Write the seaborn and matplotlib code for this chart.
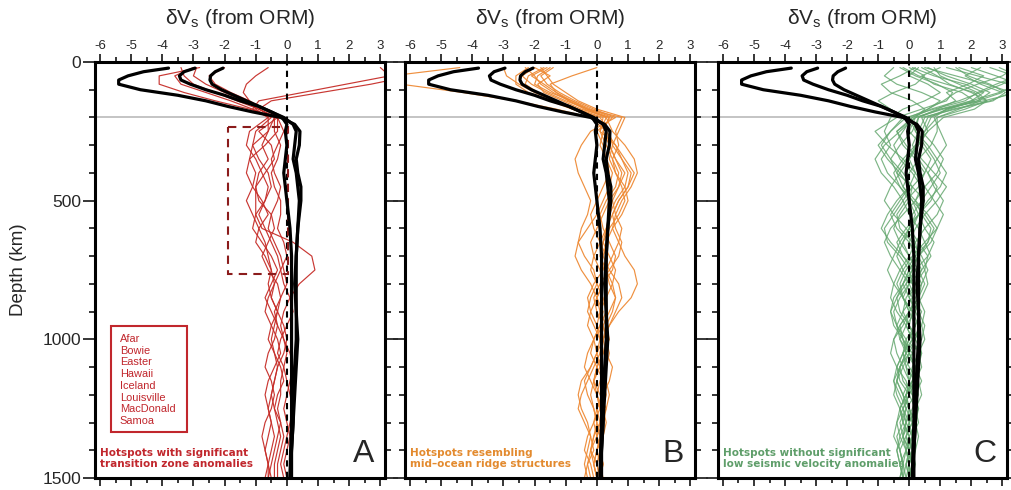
import numpy as np
import pandas as pd
import matplotlib
matplotlib.use("Agg")
import matplotlib.pyplot as plt
import matplotlib.transforms as mtransforms
from matplotlib.lines import Line2D
from matplotlib.patches import Rectangle
from matplotlib.ticker import MultipleLocator
import seaborn as sns

# ---- data (dVs in %, depth in km) ----
D_BLACK = [22, 35, 50, 65, 80, 100, 120, 140, 160, 180, 200, 225, 250, 300, 350,
           400, 450, 500, 600, 700, 800, 900, 1000, 1100, 1200, 1300, 1400, 1500]
BLACK_1 = [-3.8, -4.6, -5.1, -5.4, -5.4, -4.7, -3.5, -2.6, -1.9, -1.1, -0.2, 0.25, 0.42, 0.4,
           0.3, 0.35, 0.45, 0.45, 0.35, 0.3, 0.25, 0.3, 0.35, 0.3, 0.25, 0.2, 0.15, 0.1]
BLACK_2 = [-2.95, -3.3, -3.45, -3.4, -3.1, -2.6, -2.0, -1.5, -0.9, -0.5, -0.1, 0.2, 0.3, 0.25,
           0.2, 0.3, 0.35, 0.4, 0.35, 0.3, 0.3, 0.3, 0.3, 0.25, 0.2, 0.2, 0.15, 0.15]
BLACK_3 = [-2.05, -2.3, -2.45, -2.47, -2.4, -2.1, -1.7, -1.3, -0.9, -0.5, -0.15, 0.0, -0.05, 0.0,
           -0.05, -0.1, -0.05, 0.0, 0.1, 0.15, 0.15, 0.15, 0.15, 0.15, 0.15, 0.15, 0.12, 0.1]

D_HOT = [20, 50, 80, 110, 140, 170, 200, 250, 300, 350, 400, 450, 500, 550, 600, 650, 700,
         750, 800, 850, 900, 950, 1000, 1050, 1100, 1150, 1200, 1250, 1300, 1350, 1400, 1450, 1500]

# A: hotspots with significant transition zone anomalies
RED = [
    [3.0, 3.3, 1.9, 0.5, -0.9, -1.1, -0.5, -1.0, -1.1, -1.2, -1.0, -1.1, -1.3, -1.1, -0.9, -0.7, -0.6,
     -0.5, -0.6, -0.5, -0.3, -0.4, -0.5, -0.4, -0.3, -0.4, -0.5, -0.6, -0.5, -0.4, -0.5, -0.6, -0.6],
    [4.5, 4.0, 2.7, 1.1, -0.5, -0.9, -0.4, -0.6, -0.8, -0.6, -0.9, -1.0, -1.0, -1.0, -0.8, 0.2, 0.8,
     0.9, 0.4, 0.1, -0.1, -0.2, -0.1, 0.0, -0.1, -0.2, -0.2, -0.3, -0.2, -0.1, -0.2, -0.3, -0.3],
    [-2.8, -4.1, -4.1, -3.3, -2.3, -1.2, -0.3, -0.3, -0.7, -1.2, -1.3, -1.1, -0.8, -0.6, -0.9, -1.0, -0.7,
     -0.5, -0.4, -0.6, -0.7, -0.5, -0.3, -0.2, -0.4, -0.6, -0.7, -0.6, -0.5, -0.6, -0.7, -0.6, -0.5],
    [-3.4, -3.3, -3.0, -2.3, -1.6, -0.9, -0.3, -0.9, -0.5, -0.4, -0.7, -1.0, -0.9, -0.5, -0.4, -0.6, -0.8,
     -0.6, -0.3, -0.2, -0.3, -0.5, -0.6, -0.4, -0.2, -0.1, -0.3, -0.4, -0.3, -0.2, -0.3, -0.4, -0.4],
    [-0.6, -1.0, -1.3, -1.4, -1.2, -1.0, -0.6, -1.2, -1.3, -1.0, -0.8, -0.6, -0.7, -0.9, -0.7, -0.5, -0.3,
     -0.2, -0.4, -0.5, -0.3, -0.1, 0.0, -0.1, -0.3, -0.4, -0.5, -0.4, -0.2, -0.3, -0.4, -0.5, -0.6],
    [-2.0, -2.5, -2.3, -1.8, -1.2, -0.7, -0.3, -0.1, -0.3, -0.5, -0.4, -0.2, -0.3, -0.5, -0.6, -0.4, -0.2,
     -0.1, 0.0, -0.2, -0.4, -0.3, -0.1, 0.1, 0.2, 0.1, 0.0, -0.1, 0.0, 0.1, 0.0, -0.1, 0.0],
    [-3.0, -3.6, -3.4, -2.6, -1.8, -1.1, -0.6, -0.6, -1.1, -0.9, -0.6, -0.5, -0.7, -1.0, -1.1, -0.8, -0.5,
     -0.3, -0.5, -0.7, -0.5, -0.3, -0.4, -0.6, -0.7, -0.5, -0.4, -0.5, -0.7, -0.8, -0.7, -0.6, -0.7],
    [-2.9, -3.0, -2.6, -2.0, -1.4, -0.9, -0.4, -0.4, -0.2, -0.3, -0.5, -0.4, -0.2, -0.2, -0.3, -0.1, 0.0,
     -0.2, -0.1, 0.1, 0.2, 0.0, -0.2, -0.3, -0.1, 0.0, 0.1, 0.2, 0.1, 0.0, -0.1, -0.2, -0.1],
]

# B: hotspots resembling mid-ocean ridge structures
ORANGE = [
    [-4.4, -6.6, -6.3, -4.3, -2.6, -1.3, -0.2, 0.3, 0.6, 0.8, 1.1, 1.0, 0.7, 0.5, 0.3, 0.2, 0.4,
     0.6, 0.5, 0.3, 0.1, 0.0, 0.1, 0.2, 0.1, -0.1, -0.2, -0.1, 0.0, 0.1, 0.0, -0.1, 0.0],
    [0.0, -0.8, -1.5, -1.3, -0.9, -0.4, 0.3, 0.5, 0.9, 1.2, 1.3, 1.1, 0.8, 0.6, 0.5, 0.7, 0.9,
     1.2, 1.3, 1.1, 0.7, 0.4, 0.2, 0.1, 0.2, 0.3, 0.2, 0.0, -0.1, 0.0, 0.1, 0.2, 0.1],
    [-1.4, -1.8, -1.6, -1.2, -0.7, -0.1, 0.6, -0.2, -0.5, -0.7, -0.6, -0.4, -0.2, -0.3, -0.5, -0.6, -0.4,
     -0.1, 0.0, -0.2, -0.3, -0.1, 0.1, 0.0, -0.2, -0.4, -0.3, -0.1, 0.0, -0.1, -0.2, -0.3, -0.2],
    [-2.0, -2.4, -2.1, -1.6, -1.0, -0.3, 0.8, 0.6, 0.7, 0.5, 0.6, 0.8, 0.9, 0.7, 0.4, 0.2, 0.1,
     0.3, 0.5, 0.6, 0.4, 0.2, 0.3, 0.4, 0.3, 0.1, 0.0, 0.1, 0.2, 0.1, 0.0, 0.1, 0.2],
    [-2.0, -1.5, -1.9, -1.7, -1.1, -0.5, 0.4, 0.2, 0.4, 0.6, 0.9, 0.7, 0.4, 0.2, 0.0, -0.2, -0.1,
     0.1, 0.2, 0.0, -0.2, -0.3, -0.1, 0.0, -0.2, -0.5, -0.6, -0.5, -0.3, -0.2, -0.3, -0.4, -0.3],
    [-1.7, -2.2, -2.3, -1.9, -1.3, -0.6, 0.2, 0.1, 0.3, 0.5, 0.7, 0.6, 0.3, 0.1, 0.2, 0.4, 0.6,
     0.5, 0.2, 0.0, 0.1, 0.3, 0.4, 0.2, 0.0, -0.1, 0.1, 0.3, 0.2, 0.0, -0.2, -0.1, 0.0],
    [-3.0, -2.9, -2.5, -2.0, -1.4, -0.7, 0.1, 0.4, 0.5, 0.8, 1.0, 0.9, 0.6, 0.4, 0.3, 0.1, -0.1,
     -0.2, 0.0, 0.2, 0.3, 0.1, -0.1, -0.2, 0.0, 0.2, 0.3, 0.2, 0.1, -0.1, -0.2, 0.0, 0.1],
    [-1.5, -1.9, -2.0, -1.5, -0.8, -0.2, 0.5, 0.0, 0.2, 0.3, 0.5, 0.4, 0.2, 0.0, -0.3, -0.6, -0.7,
     -0.5, -0.2, 0.0, 0.2, 0.1, -0.1, -0.3, -0.4, -0.2, 0.0, 0.1, -0.1, -0.3, -0.4, -0.2, -0.1],
    [-2.2, -2.6, -2.6, -2.2, -1.5, -0.8, 0.0, 0.3, 0.4, 0.6, 0.8, 0.7, 0.5, 0.6, 0.8, 0.7, 0.5,
     0.3, 0.4, 0.6, 0.5, 0.3, 0.2, 0.3, 0.5, 0.4, 0.2, 0.0, 0.1, 0.2, 0.1, 0.0, 0.1],
    [-1.8, -1.6, -1.4, -1.0, -0.6, 0.0, 0.9, 0.7, 0.5, 0.4, 0.6, 0.9, 1.0, 0.8, 0.5, 0.3, 0.2,
     0.4, 0.7, 0.8, 0.6, 0.4, 0.2, 0.0, 0.1, 0.3, 0.4, 0.3, 0.1, 0.0, 0.1, 0.2, 0.1],
    [-2.3, -2.0, -1.8, -1.4, -0.9, -0.3, 0.4, 0.2, 0.1, 0.3, 0.4, 0.2, 0.0, -0.2, -0.1, 0.1, 0.3,
     0.2, -0.1, -0.3, -0.2, 0.0, 0.2, 0.1, -0.1, -0.3, -0.5, -0.6, -0.4, -0.2, -0.1, -0.3, -0.4],
    [-1.6, -2.1, -1.7, -1.3, -0.8, -0.3, 0.3, 0.1, 0.6, 0.9, 1.2, 1.0, 0.7, 0.5, 0.6, 0.8, 0.7,
     0.4, 0.1, -0.1, 0.0, 0.2, 0.3, 0.2, 0.0, -0.1, 0.0, 0.2, 0.3, 0.2, 0.0, -0.1, 0.0],
]

# C: hotspots without significant low seismic velocity anomalies
GREEN = [
    [0.1, 0.8, 1.8, 2.4, 2.0, 1.0, 0.3, 0.1, -0.3, -0.6, -0.4, 0.1, 0.5, 0.3, -0.1, -0.4, -0.2,
     0.2, 0.4, 0.3, 0.0, -0.3, -0.2, 0.1, 0.3, 0.2, -0.1, -0.3, -0.2, 0.0, 0.1, 0.0, -0.1],
    [0.5, 1.5, 2.5, 3.3, 2.6, 1.4, 0.6, 0.4, 0.8, 1.1, 0.9, 0.5, 0.2, 0.4, 0.7, 0.6, 0.3,
     0.0, -0.2, 0.0, 0.3, 0.5, 0.4, 0.1, -0.1, 0.0, 0.2, 0.3, 0.1, -0.1, 0.0, 0.1, 0.0],
    [1.2, 2.2, 3.2, 3.5, 2.4, 1.0, 0.2, -0.3, -0.8, -1.1, -0.9, -0.5, -0.2, -0.5, -0.8, -0.7, -0.3,
     0.0, -0.2, -0.5, -0.6, -0.4, -0.1, -0.2, -0.4, -0.5, -0.3, -0.1, -0.2, -0.4, -0.3, -0.2, -0.3],
    [2.0, 2.8, 3.5, 2.9, 2.0, 1.2, 0.8, 1.0, 1.2, 0.9, 0.6, 0.8, 1.1, 0.9, 0.5, 0.2, 0.3,
     0.5, 0.6, 0.4, 0.1, 0.0, 0.2, 0.4, 0.3, 0.1, -0.1, 0.0, 0.2, 0.3, 0.2, 0.1, 0.0],
    [-0.2, 0.3, 1.2, 2.1, 2.3, 1.6, 0.9, 0.9, 0.7, 0.3, 0.0, -0.2, 0.1, 0.5, 0.8, 0.6, 0.2,
     -0.1, -0.3, -0.2, 0.1, 0.3, 0.2, -0.1, -0.3, -0.2, 0.1, 0.2, 0.0, -0.2, -0.1, 0.1, 0.1],
    [2.6, 3.4, 3.0, 2.3, 1.6, 0.7, 0.1, -0.2, -0.5, -0.3, 0.1, 0.4, 0.2, -0.2, -0.6, -0.8, -0.6,
     -0.3, 0.0, 0.2, 0.0, -0.3, -0.5, -0.4, -0.2, 0.0, -0.1, -0.3, -0.4, -0.3, -0.1, -0.2, -0.2],
    [0.8, 1.0, 1.6, 2.2, 1.8, 0.8, -0.1, -0.6, -1.0, -0.7, -0.3, 0.0, -0.3, -0.6, -0.4, 0.0, 0.3,
     0.1, -0.2, -0.4, -0.3, 0.0, 0.2, 0.0, -0.3, -0.4, -0.2, 0.0, 0.1, -0.1, -0.3, -0.2, -0.1],
    [-0.5, -0.8, -0.4, 0.4, 1.0, 0.6, 0.0, 0.2, 0.5, 0.8, 1.0, 0.7, 0.4, 0.1, 0.0, 0.3, 0.6,
     0.5, 0.2, -0.1, -0.2, 0.0, 0.3, 0.4, 0.2, 0.0, -0.2, -0.1, 0.1, 0.2, 0.0, -0.1, 0.0],
    [0.2, -0.3, -0.9, -0.6, 0.1, 0.5, 0.2, -0.4, -0.2, 0.2, 0.5, 0.3, -0.1, -0.4, -0.3, 0.1, 0.4,
     0.6, 0.4, 0.1, -0.2, -0.4, -0.3, 0.0, 0.2, 0.1, -0.1, -0.3, -0.2, 0.0, 0.1, -0.1, -0.2],
    [1.5, 1.9, 2.6, 3.1, 2.7, 1.5, 0.4, 0.6, 0.3, 0.0, -0.3, -0.6, -0.8, -0.5, -0.1, 0.2, 0.0,
     -0.3, -0.5, -0.6, -0.4, -0.1, 0.1, -0.1, -0.3, -0.5, -0.4, -0.2, 0.0, 0.1, -0.1, -0.3, -0.2],
    [3.4, 3.0, 2.2, 1.5, 1.1, 0.6, 0.1, -0.4, -0.1, 0.3, 0.6, 0.9, 0.7, 0.3, 0.0, -0.2, 0.0,
     0.3, 0.5, 0.3, 0.0, -0.1, 0.1, 0.3, 0.4, 0.2, 0.0, -0.2, -0.1, 0.1, 0.2, 0.0, 0.0],
    [0.0, 0.5, 0.2, -0.5, -1.0, -0.6, -0.2, -0.6, -0.9, -0.6, -0.2, 0.1, 0.0, -0.3, -0.5, -0.3, 0.0,
     0.2, 0.0, -0.3, -0.5, -0.4, -0.2, -0.1, -0.3, -0.4, -0.2, 0.0, -0.1, -0.3, -0.4, -0.3, -0.2],
    [1.0, 0.4, 0.8, 1.7, 2.1, 1.3, 0.5, 0.3, 0.1, 0.4, 0.8, 1.2, 0.9, 0.5, 0.2, 0.0, 0.2,
     0.4, 0.2, 0.0, 0.2, 0.4, 0.5, 0.3, 0.1, 0.0, 0.1, 0.3, 0.2, 0.0, -0.1, 0.0, 0.1],
    [2.3, 1.8, 2.3, 3.0, 2.2, 1.2, 0.7, 0.5, 0.3, -0.1, -0.4, -0.2, 0.2, 0.6, 0.9, 0.7, 0.3,
     0.0, 0.1, 0.3, 0.5, 0.4, 0.1, -0.2, -0.1, 0.2, 0.3, 0.1, -0.1, -0.2, 0.0, 0.1, 0.0],
    [-0.3, 0.2, 0.9, 1.4, 1.2, 0.4, -0.4, -1.1, -0.7, -0.2, 0.2, 0.0, -0.4, -0.7, -0.9, -0.6, -0.2,
     0.1, -0.1, -0.4, -0.6, -0.5, -0.2, 0.0, -0.2, -0.4, -0.5, -0.3, -0.1, -0.2, -0.4, -0.3, -0.2],
    [0.6, 1.2, 2.0, 2.6, 2.2, 1.1, 0.2, 0.0, 0.4, 0.7, 0.5, 0.1, -0.2, 0.0, 0.3, 0.5, 0.7,
     0.4, 0.0, -0.2, 0.0, 0.2, 0.0, -0.2, 0.0, 0.3, 0.4, 0.2, 0.0, -0.1, 0.1, 0.2, 0.1],
    [2.9, 3.5, 2.8, 2.2, 2.5, 1.8, 0.9, 0.5, 0.2, 0.0, 0.2, 0.5, 0.8, 1.1, 0.9, 0.5, 0.1,
     -0.2, -0.4, -0.2, 0.1, 0.2, 0.0, -0.2, -0.4, -0.3, 0.0, 0.2, 0.3, 0.1, -0.1, 0.0, 0.0],
    [0.3, 0.0, 0.6, 1.0, 0.5, -0.2, -0.6, -0.8, -0.6, -0.9, -0.7, -0.3, 0.0, 0.2, 0.0, -0.3, -0.5,
     -0.7, -0.5, -0.2, 0.0, -0.2, -0.5, -0.6, -0.4, -0.1, 0.0, -0.2, -0.4, -0.5, -0.3, -0.2, -0.3],
    [1.6, 2.4, 1.9, 1.2, 1.5, 0.9, 0.3, 0.2, 0.6, 0.9, 1.2, 1.0, 0.6, 0.3, 0.5, 0.8, 0.6,
     0.2, -0.1, 0.1, 0.4, 0.2, -0.1, 0.0, 0.2, 0.1, -0.1, 0.0, 0.2, 0.1, 0.0, -0.1, 0.0],
    [0.4, 0.9, 1.3, 2.0, 2.5, 2.1, 1.1, 0.6, 0.2, -0.2, -0.5, -0.3, 0.1, 0.3, 0.1, -0.2, -0.4,
     -0.2, 0.1, 0.3, 0.2, -0.1, -0.3, -0.1, 0.2, 0.4, 0.2, -0.1, -0.3, -0.2, 0.0, 0.1, 0.0],
]

HOTSPOTS_A = ["Afar", "Bowie", "Easter", "Hawaii", "Iceland", "Louisville", "MacDonald", "Samoa"]
GROUP_LABELS = ["Hotspots with significant\ntransition zone anomalies",
                "Hotspots resembling\nmid\u2013ocean ridge structures",
                "Hotspots without significant\nlow seismic velocity anomalies"]
PANEL_LETTERS = ["A", "B", "C"]
LINE_COLORS = ["#c62d28", "#ee8a35", "#66a870"]
TEXT_COLORS = ["#c1272d", "#e38a2e", "#5f9e6a"]
TZ_BOX = (-1.9, 0.05, 235, 765)   # dashed transition-zone box in panel A (x0, x1, z0, z1)


def long_df(curves, depths):
    rows = []
    for i, c in enumerate(curves):
        assert len(c) == len(depths), (i, len(c))
        rows += [(i, d, v) for d, v in zip(depths, c)]
    return pd.DataFrame(rows, columns=["curve", "depth", "dvs"])


sns.set_style("ticks")
plt.rcParams["font.family"] = ["Liberation Sans", "DejaVu Sans"]
plt.rcParams["axes.unicode_minus"] = False
plt.rcParams["mathtext.default"] = "regular"

W, H = 1012, 490
fig = plt.figure(figsize=(W / 100, H / 100), dpi=100)
boxes = [(95, 290), (405, 290), (718, 289)]
axes = [fig.add_axes([l / W, 12 / H, w / W, 416 / H]) for l, w in boxes]

black_df = long_df([BLACK_1, BLACK_2, BLACK_3], D_BLACK)

for i, (ax, curves) in enumerate(zip(axes, [RED, ORANGE, GREEN])):
    ax.set_facecolor("none")
    sns.lineplot(data=long_df(curves, D_HOT), x="dvs", y="depth", units="curve",
                 estimator=None, sort=False, orient="y", color=LINE_COLORS[i],
                 linewidth=0.85, alpha=0.95 if i < 2 else 0.85, legend=False, ax=ax, zorder=2)
    ax.axvline(0, color="black", lw=1.5, ls=(0, (3, 2.5)), zorder=3)
    sns.lineplot(data=black_df, x="dvs", y="depth", units="curve", estimator=None,
                 sort=False, orient="y", color="black", linewidth=2.3, legend=False,
                 ax=ax, zorder=4)

    ax.set_xlim(-6.16, 3.15)
    ax.set_ylim(1500, 0)
    ax.set_xlabel("")
    ax.set_ylabel("")
    ax.xaxis.set_major_locator(MultipleLocator(1))
    ax.xaxis.set_minor_locator(MultipleLocator(0.5))
    ax.yaxis.set_major_locator(MultipleLocator(500))
    ax.yaxis.set_minor_locator(MultipleLocator(100))
    ax.tick_params(axis="x", which="both", top=True, bottom=True, labeltop=True,
                   labelbottom=False, direction="out", width=1.3, labelsize=9.5, pad=1)
    ax.tick_params(axis="x", which="major", length=6)
    ax.tick_params(axis="x", which="minor", length=3.5)
    ax.tick_params(axis="y", which="both", left=True, right=True, labelleft=(i == 0),
                   direction="out", width=1.3, labelsize=12.5, pad=1)
    ax.tick_params(axis="y", which="major", length=9)
    ax.tick_params(axis="y", which="minor", length=4.5)
    for s in ax.spines.values():
        s.set_linewidth(2.2)
        s.set_color("black")

    ax.text(0.017, 0.022, GROUP_LABELS[i], transform=ax.transAxes, ha="left", va="bottom",
            color=TEXT_COLORS[i], fontsize=7.5, fontweight="bold", family="DejaVu Sans",
            linespacing=1.15, zorder=1)
    ax.text(0.925, 0.022, PANEL_LETTERS[i], transform=ax.transAxes, ha="center",
            va="bottom", fontsize=23, zorder=5)
    cx = (boxes[i][0] + boxes[i][1] / 2) / W
    fig.text(cx, 1 - 19 / H, "\u03b4V$_{s}$ (from ORM)", ha="center", va="center", fontsize=15)

# transition zone box and hotspot list in panel A
axA = axes[0]
x0, x1, z0, z1 = TZ_BOX
axA.add_patch(Rectangle((x0, z0), x1 - x0, z1 - z0, fill=False, ec="#8b1c1c",
                        lw=1.5, ls=(0, (4, 3)), zorder=3))
axA.add_patch(Rectangle((0.055, 0.111), 0.262, 0.254, transform=axA.transAxes,
                        fill=False, ec=TEXT_COLORS[0], lw=1.5, zorder=1))
for k, name in enumerate(HOTSPOTS_A):
    axA.text(0.086, 0.334 - k * 0.0281, name, transform=axA.transAxes, ha="left",
             va="center", fontsize=7.9, color=TEXT_COLORS[0])

# gray 200 km line across all panels
trans = mtransforms.blended_transform_factory(fig.transFigure, axA.transData)
fig.add_artist(Line2D([95 / W, 1007 / W], [200, 200], transform=trans,
                      color="#b4b4b4", lw=1.1, zorder=-1))

fig.text(19 / W, 1 - 270 / H, "Depth (km)", rotation=90, ha="center", va="center", fontsize=13.5)

fig.savefig("out.png", dpi=100)
